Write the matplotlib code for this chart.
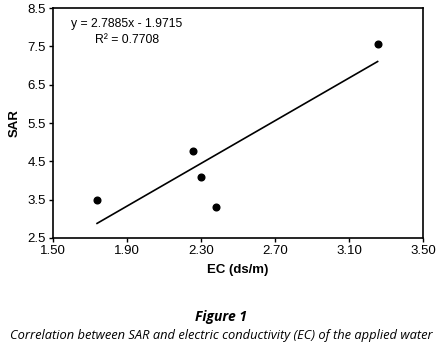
import matplotlib
matplotlib.use("Agg")
import matplotlib.pyplot as plt
import numpy as np

# datos
ec = [1.74, 2.26, 2.30, 2.38, 3.255]
sar = [3.49, 4.78, 4.10, 3.31, 7.57]
pendiente = 2.7885
intercepto = -1.9715
r2 = 0.7708
xticks = [1.50, 1.90, 2.30, 2.70, 3.10, 3.50]
yticks = [2.5, 3.5, 4.5, 5.5, 6.5, 7.5, 8.5]

plt.rcParams['font.family'] = ['Liberation Sans', 'DejaVu Sans']

fig = plt.figure(figsize=(4.42, 3.51), dpi=100)
ax = fig.add_axes([0.119, 0.322, 0.838, 0.655])

ax.plot(ec, sar, linestyle='None', marker='o', markersize=4.8, color='black')
xl = np.array([min(ec), max(ec)])
ax.plot(xl, pendiente * xl + intercepto, color='black', linewidth=1.2)

ax.set_xlim(1.50, 3.50)
ax.set_ylim(2.5, 8.5)
ax.set_xticks(xticks)
ax.set_xticklabels(["%.2f" % t for t in xticks])
ax.set_yticks(yticks)
ax.set_yticklabels(["%.1f" % t for t in yticks])
ax.tick_params(direction='out', length=3, width=1, labelsize=9.5, colors='black', pad=2)
for s in ax.spines.values():
    s.set_linewidth(1.2)

ax.set_xlabel("EC (ds/m)", fontsize=9.5, fontweight='bold', labelpad=5)
ax.set_ylabel("SAR", fontsize=9.5, fontweight='bold', labelpad=5)

ax.text(0.05, 0.93, "y = 2.7885x - 1.9715", transform=ax.transAxes, fontsize=8.8, va='center', ha='left')
ax.text(0.2, 0.86, "R² = %.4f" % r2, transform=ax.transAxes, fontsize=8.8, va='center', ha='center')

fig.text(0.5, 0.097, "Figure 1", ha='center', va='center', fontsize=10,
         fontweight='bold', style='italic', family=['Open Sans', 'DejaVu Sans'])
fig.text(0.5, 0.043, "Correlation between SAR and electric conductivity (EC) of the applied water",
         ha='center', va='center', fontsize=9.3, style='italic', family=['Open Sans', 'DejaVu Sans'])

fig.savefig("out.png", dpi=100)
